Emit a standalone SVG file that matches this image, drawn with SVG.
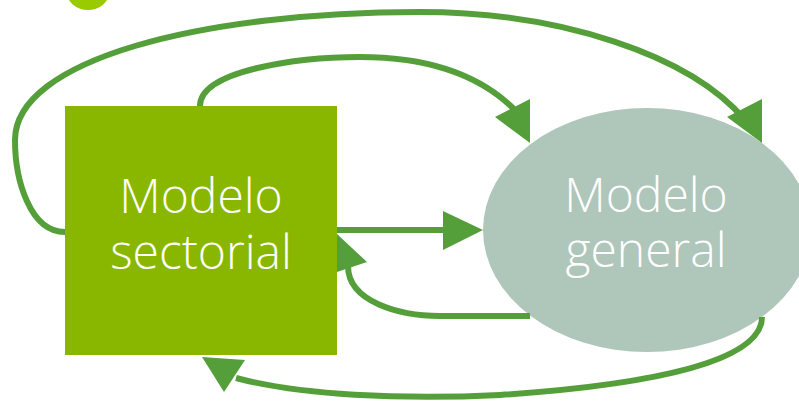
<svg xmlns="http://www.w3.org/2000/svg" width="799" height="404" viewBox="0 0 799 404">
<style>
.conn{fill:none;stroke:#559f3a;stroke-width:6}
.head{fill:#559f3a}
.lbl{font-family:"Open Sans","Liberation Sans",sans-serif;font-weight:300;font-size:48px;fill:#ffffff;text-anchor:middle}
</style>
<rect width="799" height="404" fill="#ffffff"/>
<ellipse cx="88" cy="-10" rx="22" ry="20" fill="#9acb00"/>
<g id="modelo-sectorial">
<rect x="65" y="106" width="272" height="249" fill="#89b700"/>
<text class="lbl" x="201" y="213">Modelo</text>
<text class="lbl" x="201" y="269">sectorial</text>
</g>
<g id="modelo-general">
<ellipse cx="647" cy="230" rx="164" ry="122" fill="#afc6ba"/>
<text class="lbl" x="646" y="212">Modelo</text>
<text class="lbl" x="646" y="267">general</text>
</g>
<g id="connectors">
<path class="conn" d="M65,232 C30,232 15,180 15,140 C15,60 200,12 420,12 C560,12 690,55 745,120"/>
<polygon class="head" points="727,117 762,99 762,143"/>
<path class="conn" d="M200,106 C200,70 300,57 360,57 C430,57 480,75 515,110"/>
<polygon class="head" points="495,117 530,99 530,143"/>
<path class="conn" d="M337,230 L445,230"/>
<polygon class="head" points="443,211 483,230 443,250"/>
<path class="conn" d="M530,316 L440,316 C400,316 348,302 348,266"/>
<polygon class="head" points="337,234 367,262 337,272"/>
<path class="conn" d="M762,317 C762,362 650,385 500,395 C400,400 300,395 236,378"/>
<polygon class="head" points="202,357 245,360 224,392"/>
</g>
</svg>
